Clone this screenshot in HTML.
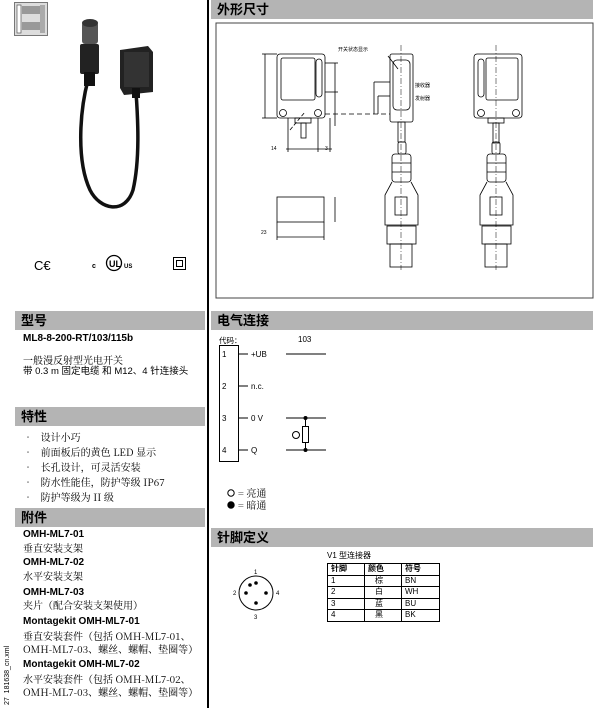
<!DOCTYPE html>
<html><head><meta charset="utf-8"><style>
*{margin:0;padding:0;box-sizing:border-box}
body{width:603px;height:708px;background:#fff;position:relative;overflow:hidden;font-family:"Liberation Sans","Noto Sans CJK SC",sans-serif;color:#000}
.a{position:absolute;white-space:nowrap;line-height:12px}
.h{position:absolute;background:#b4b4b4;font-weight:bold;font-size:13px;line-height:19px;padding-left:6px;font-family:"Liberation Sans","Noto Sans CJK SC",sans-serif}
.t{font-size:9.5px;line-height:12px}
.b{font-weight:bold;font-size:10px}
.cn{font-family:"Noto Serif CJK SC","Noto Sans CJK SC",serif;font-size:10px}
</style></head><body>
<div class="a" style="left:207px;top:0;width:1.5px;height:708px;background:#000"></div>

<svg class="a" style="left:0;top:0" width="207" height="300">
<rect x="14.5" y="2.5" width="33" height="33" fill="#ddd" stroke="#777"/>
<rect x="17" y="5" width="4" height="28" fill="#fff" stroke="#555" stroke-width=".7"/>
<rect x="22" y="6" width="20" height="8" fill="#999"/><rect x="22" y="22" width="18" height="8" fill="#999"/>
<rect x="40" y="5" width="5" height="28" fill="#aaa"/>
<path d="M88 80 C 80 110 76 160 90 190 C 100 210 125 215 133 190 C 140 160 138 120 136 92" fill="none" stroke="#111" stroke-width="3.5"/>
<rect x="82" y="22" width="16" height="22" fill="#555" rx="3"/>
<ellipse cx="90" cy="23" rx="8" ry="4" fill="#333"/>
<rect x="80" y="44" width="19" height="30" fill="#222" rx="2"/>
<rect x="84" y="72" width="11" height="14" fill="#111"/>
<path d="M120 50 L148 46 L153 52 L153 92 L124 95 L120 88 Z" fill="#222"/>
<rect x="124" y="52" width="25" height="35" fill="#333"/>
<rect x="132" y="88" width="8" height="10" fill="#111"/>
<text x="34" y="270" font-size="13" font-family="Liberation Sans">C€</text>
<circle cx="114" cy="263" r="7.5" fill="none" stroke="#000" stroke-width="1.3"/>
<text x="109" y="267" font-size="9" font-weight="bold" font-family="Liberation Sans">UL</text>
<text x="92" y="268" font-size="7" font-weight="bold" font-family="Liberation Sans">c</text>
<text x="124" y="268" font-size="6" font-weight="bold" font-family="Liberation Sans">US</text>
<rect x="173.5" y="257.5" width="12" height="12" fill="none" stroke="#000"/><rect x="176.5" y="260.5" width="6" height="6" fill="none" stroke="#000"/>
</svg>

<div class="h" style="left:15px;top:311px;width:190px;height:19px">型号</div>
<div class="a b" style="left:23px;top:333px">ML8-8-200-RT/103/115b</div>
<div class="a cn" style="left:23px;top:354px">一般漫反射型光电开关</div>
<div class="a t" style="left:23px;top:366px">带 0.3 m 固定电缆 和 M12、4 针连接头</div>

<div class="h" style="left:15px;top:407px;width:190px;height:19px">特性</div>
<div class="a cn" style="left:23px;top:429px;line-height:15px">•&nbsp;&nbsp;&nbsp;设计小巧<br>•&nbsp;&nbsp;&nbsp;前面板后的黄色 LED 显示<br>•&nbsp;&nbsp;&nbsp;长孔设计，可灵活安装<br>•&nbsp;&nbsp;&nbsp;防水性能佳，防护等级 IP67<br>•&nbsp;&nbsp;&nbsp;防护等级为 II 级</div>

<div class="h" style="left:15px;top:508px;width:190px;height:19px">附件</div>
<div class="a b" style="left:23px;top:529px">OMH-ML7-01</div>
<div class="a cn" style="left:23px;top:542px">垂直安装支架</div>
<div class="a b" style="left:23px;top:557px">OMH-ML7-02</div>
<div class="a cn" style="left:23px;top:570px">水平安装支架</div>
<div class="a b" style="left:23px;top:587px">OMH-ML7-03</div>
<div class="a cn" style="left:23px;top:599px">夹片（配合安装支架使用）</div>
<div class="a b" style="left:23px;top:616px">Montagekit OMH-ML7-01</div>
<div class="a cn" style="left:23px;top:629px;line-height:13px">垂直安装套件（包括 OMH-ML7-01、<br>OMH-ML7-03、螺丝、螺帽、垫圈等）</div>
<div class="a b" style="left:23px;top:659px">Montagekit OMH-ML7-02</div>
<div class="a cn" style="left:23px;top:672px;line-height:13px">水平安装套件（包括 OMH-ML7-02、<br>OMH-ML7-03、螺丝、螺帽、垫圈等）</div>
<div class="a" style="left:2px;top:705px;font-size:7px;transform:rotate(-90deg);transform-origin:0 0">27&nbsp;&nbsp;181638_cn.xml</div>

<div class="h" style="left:211px;top:0;width:382px;height:19px">外形尺寸</div>
<svg class="a" style="left:208px;top:19px" width="395" height="285" fill="none" stroke="#000" stroke-width=".8">
<rect x="8" y="4" width="377" height="275" stroke="#444" stroke-width="1"/>
<g transform="translate(-208,-19)">
<rect x="277" y="54" width="48" height="64" rx="3"/>
<rect x="281" y="58" width="34" height="42" rx="2"/>
<rect x="316" y="59" width="6" height="38" rx="3"/>
<circle cx="283" cy="113" r="3.5"/><circle cx="318" cy="113" r="3.5"/>
<rect x="295" y="118" width="16" height="5"/><rect x="301" y="123" width="5" height="15"/>
<line x1="265" y1="54" x2="265" y2="118"/><line x1="262" y1="54" x2="277" y2="54"/><line x1="262" y1="118" x2="277" y2="118"/>
<line x1="335" y1="63" x2="335" y2="126"/><line x1="325" y1="63" x2="338" y2="63"/><line x1="325" y1="92" x2="338" y2="92"/>
<line x1="288" y1="118" x2="288" y2="152"/><line x1="318" y1="118" x2="318" y2="152"/><line x1="330" y1="118" x2="330" y2="152"/>
<line x1="286" y1="149" x2="332" y2="149"/>
<line x1="290" y1="130" x2="305" y2="112" stroke-dasharray="4 2"/>
<line x1="325" y1="114" x2="390" y2="114" stroke-dasharray="5 3"/>
<rect x="390" y="54" width="23" height="68" rx="2"/>
<rect x="393" y="60" width="17" height="50" rx="4"/>
<line x1="401" y1="45" x2="401" y2="270" stroke-dasharray="6 2 1 2" stroke-width=".5"/>
<line x1="374" y1="82" x2="390" y2="82"/><line x1="374" y1="82" x2="374" y2="114"/>
<line x1="378" y1="96" x2="390" y2="96"/><line x1="378" y1="96" x2="378" y2="114"/>
<line x1="388" y1="56" x2="398" y2="69"/>
<rect x="398" y="122" width="7" height="20"/>
<rect x="398" y="142" width="8" height="12" rx="2"/>
<rect x="392" y="154" width="19" height="28" rx="3"/>
<line x1="392" y1="163" x2="411" y2="163"/><line x1="392" y1="172" x2="411" y2="172"/>
<path d="M392 182 L385 195 L385 225 L418 225 L418 195 L411 182"/>
<rect x="395" y="197" width="12" height="18"/>
<rect x="387" y="226" width="29" height="18"/>
<rect x="390" y="244" width="22" height="23"/>
<rect x="474" y="54" width="48" height="64" rx="3"/>
<rect x="486" y="58" width="32" height="42" rx="2"/>
<rect x="478" y="59" width="6" height="38" rx="3"/>
<circle cx="481" cy="113" r="3.5"/><circle cx="516" cy="113" r="3.5"/>
<rect x="488" y="118" width="16" height="5"/><rect x="493" y="123" width="6" height="20"/>
<line x1="496" y1="45" x2="496" y2="270" stroke-dasharray="6 2 1 2" stroke-width=".5"/>
<rect x="492" y="142" width="8" height="12" rx="2"/>
<rect x="487" y="154" width="19" height="28" rx="3"/>
<line x1="487" y1="163" x2="506" y2="163"/><line x1="487" y1="172" x2="506" y2="172"/>
<path d="M487 182 L480 195 L480 225 L513 225 L513 195 L506 182"/>
<rect x="490" y="197" width="12" height="18"/>
<rect x="482" y="226" width="29" height="18"/>
<rect x="485" y="244" width="22" height="23"/>
<rect x="277" y="197" width="47" height="25"/>
<line x1="335" y1="197" x2="335" y2="222"/><line x1="277" y1="222" x2="277" y2="240"/><line x1="324" y1="222" x2="324" y2="240"/><line x1="277" y1="237" x2="324" y2="237"/>
</g>
<g fill="#000" stroke="none" font-size="5" font-family="Liberation Sans">
<text x="130" y="32" font-family="Noto Sans CJK SC">开关状态显示</text>
<text x="207" y="68" font-family="Noto Sans CJK SC">接收器</text>
<text x="207" y="81" font-family="Noto Sans CJK SC">发射器</text>
<text x="53" y="215">23</text><text x="63" y="131">14</text><text x="117" y="131">3</text>
</g>
</svg>

<div class="h" style="left:211px;top:311px;width:382px;height:19px">电气连接</div>
<div class="a" style="left:219px;top:335px;font-size:7.5px;font-family:'Noto Sans CJK SC',sans-serif">代码：</div>
<div class="a" style="left:298px;top:334px;font-size:8px">103</div>
<svg class="a" style="left:210px;top:340px" width="130" height="175" stroke="#000" fill="none">
<rect x="9.5" y="5.5" width="19" height="116"/>
<line x1="29" y1="14" x2="38" y2="14"/><line x1="29" y1="46" x2="38" y2="46"/><line x1="29" y1="78" x2="38" y2="78"/><line x1="29" y1="110" x2="38" y2="110"/>
<line x1="76" y1="14" x2="116" y2="14"/><line x1="76" y1="78" x2="116" y2="78"/><line x1="76" y1="110" x2="116" y2="110"/>
<line x1="95.5" y1="78" x2="95.5" y2="110"/>
<rect x="92.5" y="86.5" width="6" height="16" fill="#fff"/>
<circle cx="95.5" cy="78" r="1.5" fill="#000"/><circle cx="95.5" cy="110" r="1.5" fill="#000"/>
<circle cx="86" cy="95" r="3.5"/>
<g fill="#000" stroke="none" font-size="8" font-family="Liberation Sans">
<text x="12" y="17">1</text><text x="12" y="49">2</text><text x="12" y="81">3</text><text x="12" y="113">4</text>
<text x="41" y="17">+UB</text><text x="41" y="49">n.c.</text><text x="41" y="81">0 V</text><text x="41" y="113">Q</text>
</g>
<circle cx="21" cy="153" r="3.2"/><circle cx="21" cy="165" r="3.2" fill="#000"/>
</svg>
<div class="a cn" style="left:238px;top:487px;line-height:12px">= 亮通<br>= 暗通</div>

<div class="h" style="left:211px;top:528px;width:382px;height:19px">针脚定义</div>
<div class="a" style="left:327px;top:550px;font-size:8px">V1 型连接器</div>
<svg class="a" style="left:225px;top:565px" width="70" height="60">
<circle cx="31" cy="28" r="17" fill="none" stroke="#000"/>
<circle cx="31" cy="18" r="1.8"/><circle cx="21" cy="28" r="1.8"/><circle cx="41" cy="28" r="1.8"/><circle cx="31" cy="38" r="1.8"/><circle cx="25" cy="20" r="1.8"/>
<g font-size="6" font-family="Liberation Sans"><text x="29" y="9">1</text><text x="8" y="30">2</text><text x="51" y="30">4</text><text x="29" y="54">3</text></g>
</svg>
<table class="a" style="left:327px;top:563px;width:113px;border-collapse:collapse;font-size:8px;line-height:10.5px">
<tr style="font-weight:bold"><td style="border:1.2px solid #000;padding-left:3px;width:37px">针脚</td><td style="border:1.2px solid #000;padding-left:3px;width:37px">颜色</td><td style="border:1.2px solid #000;padding-left:3px">符号</td></tr>
<tr><td style="border:1px solid #000;padding-left:3px">1</td><td style="border:1px solid #000;padding-left:10px">棕</td><td style="border:1px solid #000;padding-left:3px">BN</td></tr>
<tr><td style="border:1px solid #000;padding-left:3px">2</td><td style="border:1px solid #000;padding-left:10px">白</td><td style="border:1px solid #000;padding-left:3px">WH</td></tr>
<tr><td style="border:1px solid #000;padding-left:3px">3</td><td style="border:1px solid #000;padding-left:10px">蓝</td><td style="border:1px solid #000;padding-left:3px">BU</td></tr>
<tr><td style="border:1px solid #000;padding-left:3px">4</td><td style="border:1px solid #000;padding-left:10px">黑</td><td style="border:1px solid #000;padding-left:3px">BK</td></tr>
</table>
</body></html>
